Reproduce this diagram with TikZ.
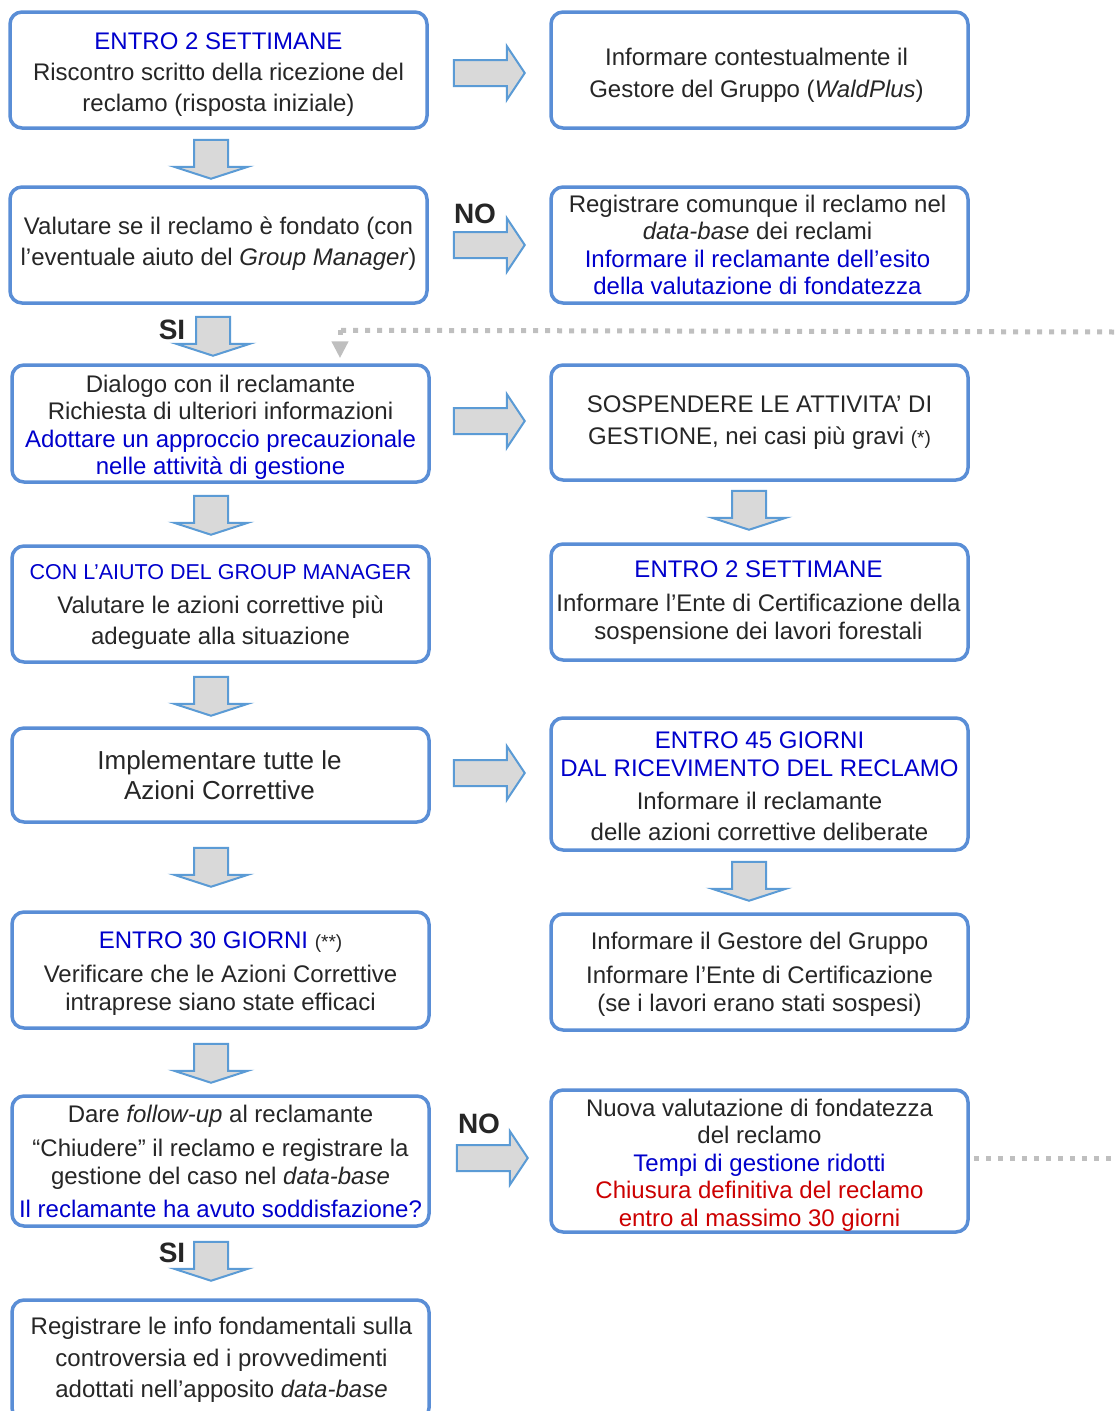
\documentclass[tikz,border=0pt]{standalone}
\usepackage{fontspec}
\setmainfont{Liberation Sans}
\usetikzlibrary{calc,arrows.meta}
\definecolor{boxblue}{HTML}{5A8ED6}
\definecolor{arrblue}{HTML}{5B9BD5}
\definecolor{arrfill}{HTML}{D9D9D9}
\definecolor{dotgray}{HTML}{BFBFBF}
\definecolor{tblue}{HTML}{0000CC}
\definecolor{tred}{HTML}{CC0000}
\definecolor{txt}{HTML}{262626}
\tikzset{
  box/.style={draw=boxblue, line width=3.5pt, rounded corners=12pt, fill=white,
    minimum width=417pt, inner sep=0pt},
  btext/.style={inner sep=0pt, align=center, text=txt},
  blk/.style={draw=arrblue, line width=2pt, fill=arrfill, line join=miter},
  lbl/.style={font=\fontsize{28}{30}\selectfont\bfseries, text=txt, inner sep=0pt},
  dots/.style={draw=dotgray, line width=5pt, dash pattern=on 5pt off 7pt},
}
% name, centre, height, font, shift (x,y), text
\newcommand\bx[6]{%
  \node[box, minimum height=#3] (#1) at #2 {};
  \node[btext, font=#4] (#1t) at ($(#1.center)+#5$) {#6};}
\newcommand\rblock[1]{\draw[blk] #1 ++(0,13) -- ++(53,0) -- ++(0,14) -- ++(18,-27) -- ++(-18,-27) -- ++(0,14) -- ++(-53,0) -- cycle;}
\newcommand\dblock[1]{\draw[blk] #1 ++(-17,0) -- ++(34,0) -- ++(0,27) -- ++(20,0) -- ++(-37,12) -- ++(-37,-12) -- ++(20,0) -- cycle;}
\begin{document}
\begin{tikzpicture}[x=1pt,y=-1pt]
\useasboundingbox (0,0) rectangle (1114,1411);

% left column
\bx{L1}{(218.5,70)}{116pt}{\fontsize{24}{31}\selectfont}{(0,5)}
  {{\color{tblue}ENTRO 2 SETTIMANE}\\Riscontro scritto della ricezione del\\reclamo (risposta iniziale)}
\bx{L2}{(218.5,245)}{116pt}{\fontsize{24}{31}\selectfont}{(0,-1)}
  {Valutare se il reclamo è fondato (con\\l’eventuale aiuto del \textit{Group Manager})}
\bx{L3}{(220.5,423.5)}{117pt}{\fontsize{24}{27.5}\selectfont}{(0,4)}
  {Dialogo con il reclamante\\Richiesta di ulteriori informazioni\\{\color{tblue}Adottare un approccio precauzionale}\\{\color{tblue}nelle attività di gestione}}
\bx{L4}{(220.5,604)}{116pt}{\fontsize{24}{31}\selectfont}{(0,3)}
  {{\fontsize{21.5}{31}\selectfont\color{tblue}CON L’AIUTO DEL GROUP MANAGER}\\[3pt]Valutare le azioni correttive più\\adeguate alla situazione}
\bx{L5}{(220.5,775)}{94pt}{\fontsize{26}{30}\selectfont}{(-1,0)}
  {Implementare tutte le\\Azioni Correttive}
\bx{L6}{(220.5,970)}{116pt}{\fontsize{24}{28}\selectfont}{(0,4)}
  {{\color{tblue}ENTRO 30 GIORNI} {\fontsize{19}{28}\selectfont(**)}\\[6pt]Verificare che le Azioni Correttive\\intraprese siano state efficaci}
\bx{L7}{(220.5,1161)}{130pt}{\fontsize{24}{28}\selectfont}{(0,0)}
  {Dare \textit{follow-up} al reclamante\\[6pt]“Chiudere” il reclamo e registrare la\\gestione del caso nel \textit{data-base}\\[5pt]{\color{tblue}Il reclamante ha avuto soddisfazione?}}
\bx{L8}{(220.5,1360)}{120pt}{\fontsize{24}{31.5}\selectfont}{(1,0)}
  {Registrare le info fondamentali sulla\\controversia ed i provvedimenti\\adottati nell’apposito \textit{data-base}}

% right column
\bx{R1}{(759.5,70)}{116pt}{\fontsize{24}{32}\selectfont}{(-3,5)}
  {Informare contestualmente il\\Gestore del Gruppo (\textit{WaldPlus})}
\bx{R2}{(759.5,245)}{116pt}{\fontsize{24}{27.5}\selectfont}{(-2,0)}
  {Registrare comunque il reclamo nel\\\textit{data-base} dei reclami\\{\color{tblue}Informare il reclamante dell’esito}\\{\color{tblue}della valutazione di fondatezza}}
\bx{R3}{(759.5,422.5)}{115pt}{\fontsize{24}{32}\selectfont}{(0,0)}
  {SOSPENDERE LE ATTIVITA’ DI\\GESTIONE, nei casi più gravi {\fontsize{19}{32}\selectfont(*)}}
\bx{R4}{(759.5,602)}{116pt}{\fontsize{24}{28}\selectfont}{(-1,1)}
  {{\color{tblue}ENTRO 2 SETTIMANE}\\[6pt]Informare l’Ente di Certificazione della\\sospensione dei lavori forestali}
\bx{R5}{(759.5,784)}{132pt}{\fontsize{24}{28}\selectfont}{(0,2.5)}
  {{\color{tblue}ENTRO 45 GIORNI}\\{\color{tblue}DAL RICEVIMENTO DEL RECLAMO}\\[5pt]Informare il reclamante\\[3pt]delle azioni correttive deliberate}
\bx{R6}{(759.5,972)}{116pt}{\fontsize{24}{28}\selectfont}{(0,2.5)}
  {Informare il Gestore del Gruppo\\[6pt]Informare l’Ente di Certificazione\\(se i lavori erano stati sospesi)}
\bx{R7}{(759.5,1161)}{142pt}{\fontsize{24}{27.5}\selectfont}{(0,4)}
  {Nuova valutazione di fondatezza\\del reclamo\\{\color{tblue}Tempi di gestione ridotti}\\{\color{tred}Chiusura definitiva del reclamo}\\{\color{tred}entro al massimo 30 giorni}}

% block arrows (connectors)
\rblock{($(L1.east)+(25,3)$)}
\rblock{($(L2.east)+(25,0)$)}
\rblock{($(L3.east)+(23,-2.5)$)}
\rblock{($(L5.east)+(23,-2)$)}
\rblock{($(L7.east)+(26,-3)$)}
\dblock{($(L1.south)+(-7.5,10)$)}
\dblock{($(L2.south)+(-5.5,12)$)}
\dblock{($(L3.south)+(-9.5,12)$)}
\dblock{($(L4.south)+(-9.5,13)$)}
\dblock{($(L5.south)+(-9.5,24)$)}
\dblock{($(L6.south)+(-9.5,14)$)}
\dblock{($(L7.south)+(-9.5,14)$)}
\dblock{($(R3.south)+(-10.5,9)$)}
\dblock{($(R5.south)+(-10.5,10)$)}

% labels
\node[lbl] (no1) at (475,214) {NO};
\node[lbl] (no2) at (479,1124) {NO};
\node[lbl] (si1) at (172,330) {SI};
\node[lbl] (si2) at (172,1253) {SI};

% dotted loop connectors
\coordinate (loopC) at ($(L3.north)+(119.5,-33)$);
\coordinate (loopR) at (1114,332);
\coordinate (loopS) at ($(R7.east)+(4,-3)$);
\coordinate (loopE) at (1114,1158);
\draw[dots] (loopR) -- (loopC);
\draw[dots, -{Triangle[length=17pt,width=16pt]}] (loopC) -- ($(L3.north -| loopC)+(0,-5)$);
\draw[dots] (loopS) -- (loopE);
\end{tikzpicture}
\end{document}
